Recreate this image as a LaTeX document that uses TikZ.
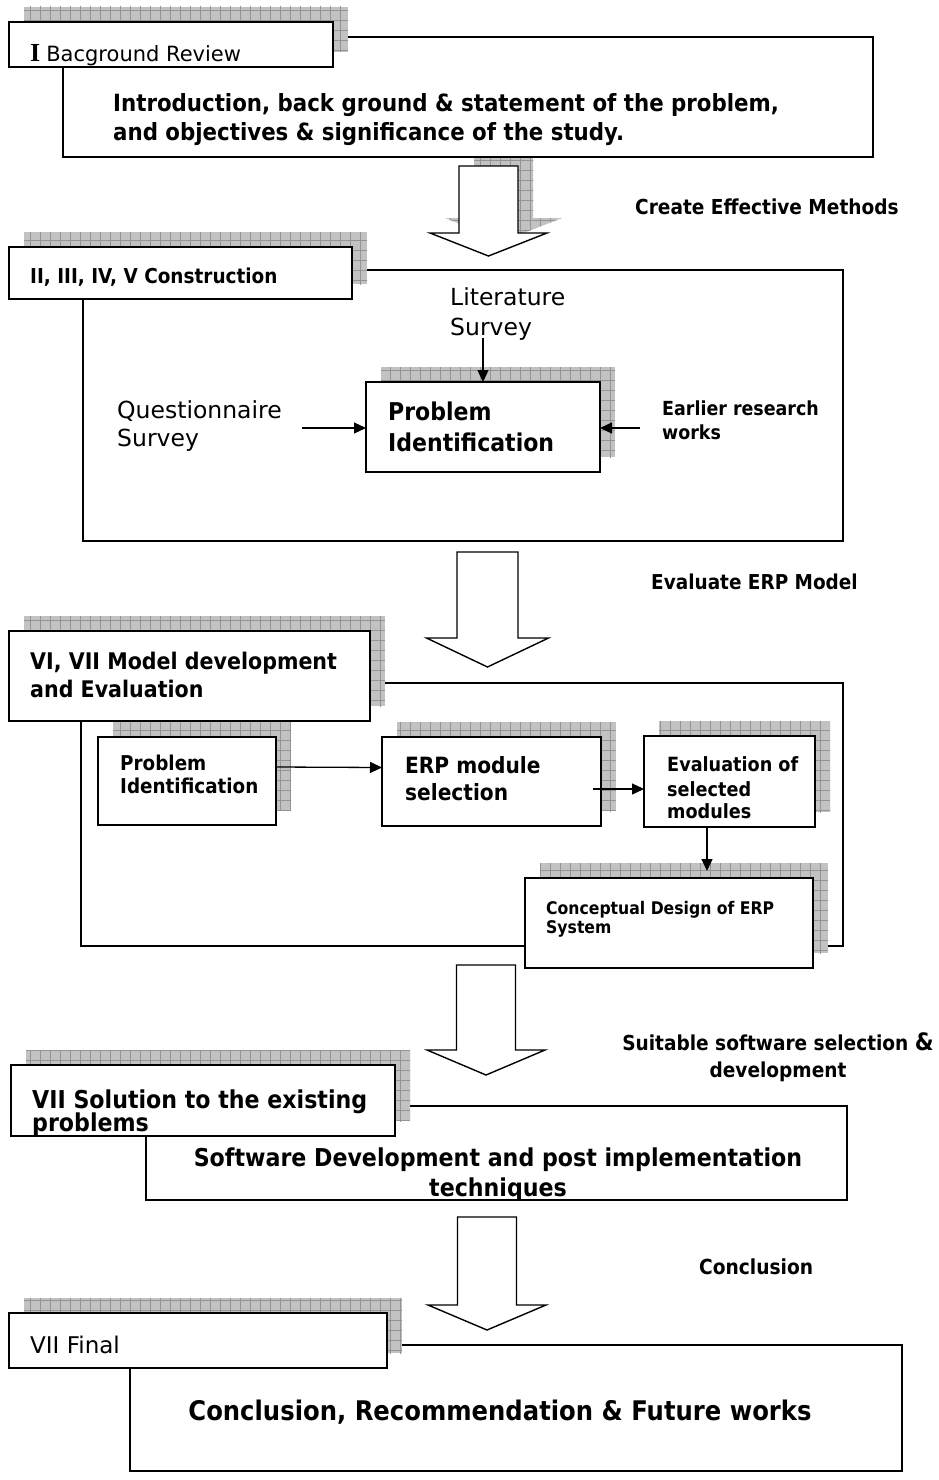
\documentclass[tikz,border=0pt]{standalone}
\usepackage{fontspec}
\setmainfont{DejaVu Sans}[BoldFeatures={FakeStretch=0.9}]
\newfontfamily\romanI{Liberation Serif}
\usetikzlibrary{arrows.meta,patterns.meta}
\newcommand\fsz[1]{\fontsize{#1}{#1}\selectfont}
% grey hatched drop shadow, shifted up and to the right
\newcommand\shadowof[1]{\fill[shade] ([shift={(15,-15)}]#1.south west) rectangle ([shift={(15,-15)}]#1.north east);}
% outline of a named slot node
\newcommand\outline[1]{\draw[boxline] (#1.south west) rectangle (#1.north east);}
% block arrow: centre x, top, shoulder, tip, half shaft, half head, options
\newcommand\blockarrow[7]{\path[#7] (#1-#5,#2) -- (#1+#5,#2) -- (#1+#5,#3) -- (#1+#6,#3) -- (#1,#4) -- (#1-#6,#3) -- (#1-#5,#3) -- cycle;}

\begin{document}
\begin{tikzpicture}[x=1pt,y=-1pt,
  frame/.style={draw, line width=1.4pt, fill=white, inner sep=0pt, outer sep=0pt},
  slot/.style={inner sep=0pt, outer sep=0pt},
  boxline/.style={draw, line width=1.4pt, fill=white},
  shade/.style={fill=black!24, postaction={pattern={Hatch[angle=0,distance=10pt,line width=0.7pt]}, pattern color=black!42}},
  txt/.style={anchor=base west, inner sep=0pt},
  ctxt/.style={anchor=base, inner sep=0pt},
  link/.style={line width=1.3pt, -{Triangle[length=12pt,width=11pt]}},
  bigarrow/.style={draw, line width=1.4pt, fill=white, line join=miter},
]
\path[use as bounding box, fill=white] (0,0) rectangle (938,1480);

% ---------------- I : background review
\blockarrow{488.5}{166}{233}{256}{29.5}{58.5}{shade, shift={(15,-15)}}
\node[frame, minimum width=810pt, minimum height=120pt] (b1) at (468,97) {};
\node[slot, minimum width=324pt, minimum height=45pt] (h1) at (171,44.5) {};
\shadowof{h1}
\outline{h1}
\begin{scope}
  \clip (h1.south west) rectangle (h1.north east);
  \node[txt] (h1t) at (30,62) {{\romanI\fontsize{26}{26}\selectfont\bfseries I}\hspace{6pt}\fsz{21}Bacground Review};
\end{scope}
\node[txt] (b1a) at (113,111) {\fsz{23.7}\bfseries Introduction, back ground \& statement of the problem,};
\node[txt] (b1b) at (113,140) {\fsz{23.7}\bfseries and objectives \& significance of the study.};
\blockarrow{488.5}{166}{233}{256}{29.5}{58.5}{bigarrow}
\node[txt] (m1) at (635,214) {\fsz{20.6}\bfseries Create Effective Methods};

% ---------------- II-V : construction
\node[frame, minimum width=760pt, minimum height=271pt] (b2) at (463,405.5) {};
\node[slot, minimum width=343pt, minimum height=52pt] (h2) at (180.5,273) {};
\shadowof{h2}
\outline{h2}
\node[txt] (h2t) at (30,283) {\fsz{20.5}\bfseries II, III, IV, V Construction};
\node[slot, minimum width=234pt, minimum height=90pt] (pi) at (483,427) {};
\shadowof{pi}
\outline{pi}
\node[txt] (pia) at (388,420) {\fsz{24.5}\bfseries Problem};
\node[txt] (pib) at (388,451) {\fsz{24.5}\bfseries Identification};
\node[txt] (lita) at (450,305) {\fsz{23.5}Literature};
\node[txt] (litb) at (450,335) {\fsz{23.5}Survey};
\node[txt] (qa) at (117,418) {\fsz{23.5}Questionnaire};
\node[txt] (qb) at (117,446) {\fsz{23.5}Survey};
\node[txt] (ea) at (662,415) {\fsz{19.4}\bfseries Earlier research};
\node[txt] (eb) at (662,439) {\fsz{19.4}\bfseries works};
\coordinate (litend) at (483,338);
\coordinate (qend) at (302,428);
\coordinate (eend) at (640,428);
\draw[link] (litend) -- (pi.north);
\draw[link] (qend) -- (qend -| pi.west);
\draw[link] (eend) -- (eend -| pi.east);

\blockarrow{487.5}{552}{638}{667}{30.5}{61}{bigarrow}
\node[txt] (m2) at (651,589) {\fsz{20.5}\bfseries Evaluate ERP Model};

% ---------------- VI, VII : model development
\node[frame, minimum width=762pt, minimum height=263pt] (b3) at (462,814.5) {};
\node[slot, minimum width=361pt, minimum height=90pt] (h3) at (189.5,676) {};
\shadowof{h3}
\outline{h3}
\node[txt] (h3a) at (30,669) {\fsz{22.9}\bfseries VI, VII Model development};
\node[txt] (h3b) at (30,697) {\fsz{22.9}\bfseries and Evaluation};

\node[slot, minimum width=178pt, minimum height=88pt] (p1) at (187,781) {};
\node[slot, minimum width=219pt, minimum height=89pt] (p2) at (491.5,781.5) {};
\node[slot, minimum width=171pt, minimum height=91pt] (p3) at (729.5,781.5) {};
\node[slot, minimum width=288pt, minimum height=90pt] (p4) at (669,923) {};
\shadowof{p1}\outline{p1}
\shadowof{p2}\outline{p2}
\shadowof{p3}\outline{p3}
\shadowof{p4}\outline{p4}
\node[txt] (p1a) at (120,770) {\fsz{20.4}\bfseries Problem};
\node[txt] (p1b) at (120,793) {\fsz{20.4}\bfseries Identification};
\node[txt] (p2a) at (405,773) {\fsz{22.4}\bfseries ERP module};
\node[txt] (p2b) at (405,800) {\fsz{22.4}\bfseries selection};
\node[txt] (p3a) at (667,771) {\fsz{19.6}\bfseries Evaluation of};
\node[txt] (p3b) at (667,796) {\fsz{19.6}\bfseries selected};
\node[txt] (p3c) at (667,818) {\fsz{19.6}\bfseries modules};
\node[txt] (p4a) at (546,914) {\fsz{17.4}\bfseries Conceptual Design of ERP};
\node[txt] (p4b) at (546,933) {\fsz{17.4}\bfseries System};
\draw[link] ([yshift=14pt]p1.east) -- ([yshift=14pt]p2.west);
\draw[link] ([xshift=-8pt,yshift=-7.5pt]p2.east) -- ([yshift=-7.5pt]p3.west);
\draw[link, shorten >=7pt] ([xshift=-22.5pt]p3.south) -- ([xshift=-22.5pt]p3.south |- p4.north);

\blockarrow{486}{965}{1050}{1075}{29.5}{59}{bigarrow}
\node[ctxt] (m3a) at (778,1050) {\fsz{20.6}\bfseries Suitable software selection {\fsz{24}\&}};
\node[ctxt] (m3b) at (778,1077) {\fsz{20.6}\bfseries development};

% ---------------- VII : solution
\node[frame, minimum width=701pt, minimum height=94pt] (b4) at (496.5,1153) {};
\node[slot, minimum width=384pt, minimum height=71pt] (h4) at (203,1100.5) {};
\shadowof{h4}
\outline{h4}
\begin{scope}
  \clip (h4.south west) rectangle (h4.north east);
  \node[txt] (h4a) at (32,1108) {\fsz{24.6}\bfseries VII Solution to the existing};
  \node[txt] (h4b) at (32,1131) {\fsz{24.6}\bfseries problems};
\end{scope}
\begin{scope}
  \clip (b4.south west) rectangle (b4.north east);
  \node[ctxt] (b4a) at (498,1166) {\fsz{24.6}\bfseries Software Development and post implementation};
  \node[ctxt] (b4b) at (498,1196) {\fsz{24.6}\bfseries techniques};
\end{scope}

\blockarrow{487}{1217}{1305}{1330}{29.5}{59}{bigarrow}
\node[txt] (m4) at (699,1274) {\fsz{20.7}\bfseries Conclusion};

% ---------------- VII : final
\node[frame, minimum width=772pt, minimum height=126pt] (b5) at (516,1408) {};
\node[slot, minimum width=378pt, minimum height=55pt] (h5) at (198,1340.5) {};
\shadowof{h5}
\outline{h5}
\node[txt] (h5t) at (30,1353) {\fsz{23}VII Final};
\node[ctxt] (b5t) at (500,1420) {\fsz{27}\bfseries Conclusion, Recommendation \& Future works};
\end{tikzpicture}
\end{document}
